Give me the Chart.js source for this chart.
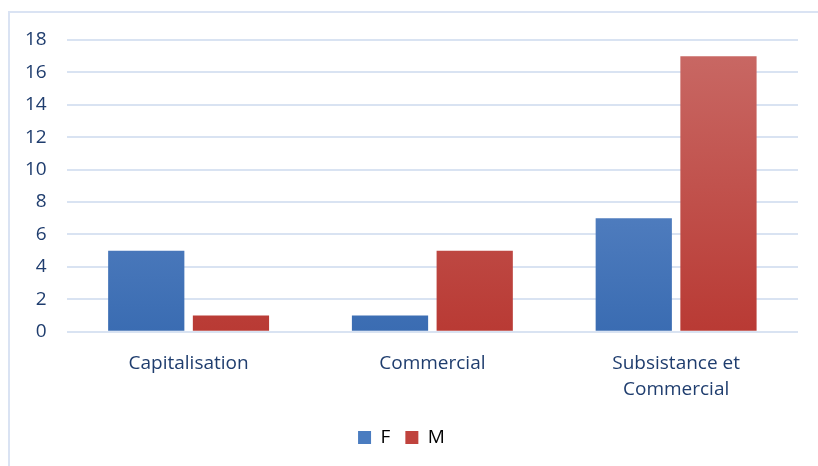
<!DOCTYPE html>
<html>
<head>
<meta charset="utf-8">
<script src="https://cdn.jsdelivr.net/npm/chart.js@4"></script>
<style>
  body { margin: 0; background: #fff; }
  #frame {
    position: absolute; left: 8px; top: 11px; width: 810px; height: 455px;
    border-left: 2px solid #dae3f3; border-top: 2px solid #dae3f3;
  }
  #wrap { position: absolute; left: 0; top: 0; width: 818px; height: 466px; }
</style>
</head>
<body>
<div id="frame"></div>
<div id="wrap"><canvas id="chart"></canvas></div>
<script>
const categories = ["Capitalisation", "Commercial", ["Subsistance et", "Commercial"]];
const seriesF = [5, 1, 7];
const seriesM = [1, 5, 17];
const yTicks = [0, 2, 4, 6, 8, 10, 12, 14, 16, 18];

const textColor = "#1f3d6e";
const gridColor = "#d9e3f2";

function gradient(top, bottom) {
  return (ctx) => {
    const area = ctx.chart.chartArea;
    if (!area) return bottom;
    const g = ctx.chart.ctx.createLinearGradient(0, area.top, 0, area.bottom);
    g.addColorStop(0, top);
    g.addColorStop(1, bottom);
    return g;
  };
}

new Chart(document.getElementById("chart"), {
  type: "bar",
  data: {
    labels: categories,
    datasets: [
      {
        label: "F",
        data: seriesF,
        backgroundColor: gradient("#6d94cf", "#3a6cb2"),
        solid: "#4a7cc0",
      },
      {
        label: "M",
        data: seriesM,
        backgroundColor: gradient("#c96a66", "#b93a34"),
        solid: "#c0433d",
      },
    ],
  },
  options: {
    responsive: true,
    maintainAspectRatio: false,
    animation: false,
    layout: { padding: { left: 5, right: 20, top: 40, bottom: 9 } },
    datasets: {
      bar: { categoryPercentage: 0.695, barPercentage: 0.9 },
    },
    scales: {
      x: {
        grid: { display: false },
        border: { display: false },
        ticks: { color: textColor, font: { family: "Open Sans", size: 19, lineHeight: 1.35 }, padding: 11 },
      },
      y: {
        min: 0,
        max: 18,
        afterBuildTicks: (axis) => { axis.ticks = yTicks.map((v) => ({ value: v })); },
        grid: { color: gridColor, lineWidth: 2, drawTicks: false },
        border: { display: false },
        ticks: { color: textColor, font: { family: "Open Sans", size: 19 }, padding: 20 },
      },
    },
    plugins: {
      legend: {
        position: "bottom",
        labels: {
          color: textColor,
          font: { family: "Open Sans", size: 19 },
          boxWidth: 13,
          boxHeight: 13,
          padding: 15,
          generateLabels: (chart) =>
            chart.data.datasets.map((ds, i) => ({
              text: ds.label,
              fillStyle: ds.solid,
              strokeStyle: ds.solid,
              lineWidth: 0,
              datasetIndex: i,
            })),
        },
      },
      tooltip: { enabled: false },
    },
  },
});
</script>
</body>
</html>
